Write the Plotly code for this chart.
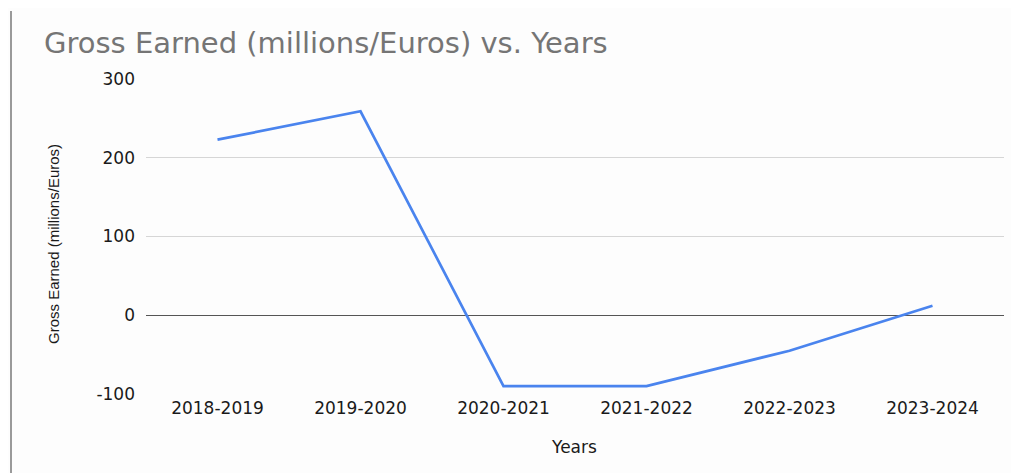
import plotly.graph_objects as go

years = ["2018-2019", "2019-2020", "2020-2021", "2021-2022", "2022-2023", "2023-2024"]
gross_earned = [223, 259, -90, -90, -45, 12]
y_ticks = [-100, 0, 100, 200, 300]
y_tick_labels = [str(v) for v in y_ticks]

# page is rendered with an 8px body margin
OFF = 8
W, H = 1019, 473
L, T = 146 - OFF, 79 - OFF
pw, ph = 858, 315
R, B = W - L - pw, H - T - ph

def px_x(x):  # page px -> paper x
    return (x - OFF - L) / pw

def px_y(y):  # page px -> paper y
    return (T + ph - (y - OFF)) / ph

fig = go.Figure()
fig.add_trace(go.Scatter(
    x=years, y=gross_earned, mode="lines",
    line=dict(color="#4a84ee", width=2.7),
    hoverinfo="skip",
))

fig.update_layout(
    width=W, height=H,
    margin=dict(l=L, r=R, t=T, b=B),
    paper_bgcolor="#fdfdfd", plot_bgcolor="#fdfdfd",
    font=dict(family="DejaVu Sans, Liberation Sans, sans-serif", color="#1a1a1a"),
    showlegend=False,
    title=dict(
        text="Gross Earned (millions/Euros) vs. Years",
        font=dict(size=29, color="#757575"),
        x=(44 - OFF) / W, xanchor="left", y=1 - (43 - OFF) / H, yanchor="middle",
    ),
    xaxis=dict(
        type="category", showgrid=False, zeroline=False, showline=False,
        ticks="", tickfont=dict(size=17, color="#1a1a1a"),
        ticklabelstandoff=2,
        range=[-0.5, 5.5],
    ),
    yaxis=dict(
        range=[-100, 300], tickvals=y_ticks, ticktext=y_tick_labels,
        showgrid=True, gridcolor="#d6d6d6", gridwidth=1,
        zeroline=True, zerolinecolor="#555555", zerolinewidth=1.3,
        showline=False, ticks="", ticklabelstandoff=10,
        tickfont=dict(size=17, color="#1a1a1a"),
    ),
    annotations=[
        dict(text="Years", xref="paper", yref="paper",
             x=px_x(574), y=px_y(447), xanchor="center", yanchor="middle",
             showarrow=False, font=dict(size=17, color="#1a1a1a")),
        dict(text="Gross Earned (millions/Euros)", xref="paper", yref="paper",
             x=px_x(53), y=px_y(244), xanchor="center", yanchor="middle", textangle=-90,
             showarrow=False, font=dict(size=15, color="#1a1a1a",
                                        family="Liberation Sans, Arial, sans-serif")),
    ],
    shapes=[dict(
        type="line", xref="paper", yref="paper",
        x0=px_x(11), x1=px_x(11),
        y0=px_y(11), y1=px_y(480),
        line=dict(color="#9a9a9a", width=2),
    )],
)

fig.write_html("out.html")
